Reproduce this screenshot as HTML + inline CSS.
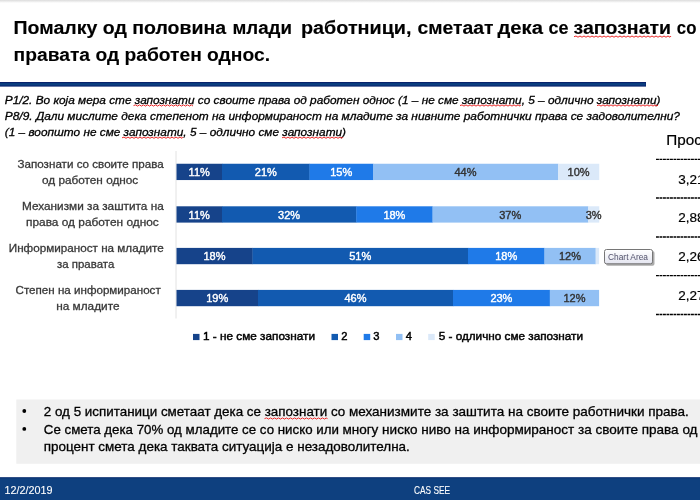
<!DOCTYPE html>
<html lang="en">
<head>
<meta charset="utf-8">
<title>Помалку од половина млади работници</title>
<style>
html,body{margin:0;padding:0;background:#fff;}
body{width:700px;height:500px;overflow:hidden;font-family:"Liberation Sans", sans-serif;}
svg{display:block;font-family:"Liberation Sans", sans-serif;}
</style>
</head>
<body>
<svg width="700" height="500" viewBox="0 0 700 500">
<defs><linearGradient id="topg" x1="0" y1="0" x2="0" y2="1"><stop offset="0" stop-color="#dcdcdc"/><stop offset="1" stop-color="#ffffff"/></linearGradient></defs>
<rect x="0" y="0" width="700" height="500" fill="#ffffff"/>
<rect x="0" y="0" width="700" height="3" fill="url(#topg)"/>
<g id="title" font-family='"Liberation Sans", sans-serif'>
<text y="34.2" font-size="18.7" font-weight="bold" font-style="normal" fill="#000" stroke="#000" stroke-width="0.15"><tspan x="13.6" textLength="212.5" lengthAdjust="spacingAndGlyphs">Помалку од половина</tspan> <tspan x="232.5" textLength="59.5" lengthAdjust="spacingAndGlyphs">млади</tspan> <tspan x="301" textLength="110.5" lengthAdjust="spacingAndGlyphs">работници,</tspan> <tspan x="417.5" textLength="76" lengthAdjust="spacingAndGlyphs">сметаат</tspan> <tspan x="497.5" textLength="45.5" lengthAdjust="spacingAndGlyphs">дека</tspan> <tspan x="548.5" textLength="20" lengthAdjust="spacingAndGlyphs">се</tspan> <tspan x="573.5" textLength="97.5" lengthAdjust="spacingAndGlyphs">запознати</tspan> <tspan x="676.8" textLength="19.6" lengthAdjust="spacingAndGlyphs">со</tspan></text>
<text x="13.6" y="61.4" font-size="18.7" font-weight="bold" font-style="normal" fill="#000" stroke="#000" stroke-width="0.1" text-anchor="start" textLength="256.4" lengthAdjust="spacingAndGlyphs">правата од работен однос.</text>
<path d="M574 36.7 L576 36 L578 37.2 L580 36 L582 37.2 L584 36 L586 37.2 L588 36 L590 37.2 L592 36 L594 37.2 L596 36 L598 37.2 L600 36 L602 37.2 L604 36 L606 37.2 L608 36 L610 37.2 L612 36 L614 37.2 L616 36 L618 37.2 L620 36 L622 37.2 L624 36 L626 37.2 L628 36 L630 37.2 L632 36 L634 37.2 L636 36 L638 37.2 L640 36 L642 37.2 L644 36 L646 37.2 L648 36 L650 37.2 L652 36 L654 37.2 L656 36 L658 37.2 L660 36 L662 37.2 L664 36 L666 37.2 L668 36 L670 37.2 L671 36" fill="none" stroke="#ee2a2a" stroke-width="1"/>
</g>
<rect id="rule" x="0" y="82" width="646" height="4.6" fill="#08226c"/>
<rect x="0" y="83.1" width="645.5" height="2.4" fill="#0b3f80"/>
<g id="question">
<text x="4.8" y="103.5" font-size="11.4" font-weight="normal" font-style="italic" fill="#000" stroke="#000" stroke-width="0.3" text-anchor="start" textLength="655.7" lengthAdjust="spacingAndGlyphs">P1/2. Во која мера сте запознати со своите права од работен однос (1 – не сме запознати, 5 – одлично запознати)</text>
<text x="4.8" y="119.8" font-size="11.4" font-weight="normal" font-style="italic" fill="#000" stroke="#000" stroke-width="0.3" text-anchor="start" textLength="675.2" lengthAdjust="spacingAndGlyphs">P8/9. Дали мислите дека степенот на информираност на младите за нивните работнички права се задоволителни?</text>
<text x="4.8" y="136.1" font-size="11.4" font-weight="normal" font-style="italic" fill="#000" stroke="#000" stroke-width="0.3" text-anchor="start" textLength="341.2" lengthAdjust="spacingAndGlyphs">(1 – воопшто не сме запознати, 5 – одлично сме запознати)</text>
<path d="M133.5 105.6 L135.5 104.9 L137.5 106.1 L139.5 104.9 L141.5 106.1 L143.5 104.9 L145.5 106.1 L147.5 104.9 L149.5 106.1 L151.5 104.9 L153.5 106.1 L155.5 104.9 L157.5 106.1 L159.5 104.9 L161.5 106.1 L163.5 104.9 L165.5 106.1 L167.5 104.9 L169.5 106.1 L171.5 104.9 L173.5 106.1 L175.5 104.9 L177.5 106.1 L179.5 104.9 L181.5 106.1 L183.5 104.9 L185.5 106.1 L187.5 104.9 L189.5 106.1 L191.5 104.9 L193 106.1" fill="none" stroke="#ee2a2a" stroke-width="1"/>
<path d="M460 105.6 L462 104.9 L464 106.1 L466 104.9 L468 106.1 L470 104.9 L472 106.1 L474 104.9 L476 106.1 L478 104.9 L480 106.1 L482 104.9 L484 106.1 L486 104.9 L488 106.1 L490 104.9 L492 106.1 L494 104.9 L496 106.1 L498 104.9 L500 106.1 L502 104.9 L504 106.1 L506 104.9 L508 106.1 L510 104.9 L512 106.1 L514 104.9 L516 106.1 L518 104.9 L520 106.1 L520.5 104.9" fill="none" stroke="#ee2a2a" stroke-width="1"/>
<path d="M597 105.6 L599 104.9 L601 106.1 L603 104.9 L605 106.1 L607 104.9 L609 106.1 L611 104.9 L613 106.1 L615 104.9 L617 106.1 L619 104.9 L621 106.1 L623 104.9 L625 106.1 L627 104.9 L629 106.1 L631 104.9 L633 106.1 L635 104.9 L637 106.1 L639 104.9 L641 106.1 L643 104.9 L645 106.1 L647 104.9 L649 106.1 L651 104.9 L653 106.1 L655 104.9 L657 106.1 L658 104.9" fill="none" stroke="#ee2a2a" stroke-width="1"/>
<path d="M122 137.8 L124 137.1 L126 138.3 L128 137.1 L130 138.3 L132 137.1 L134 138.3 L136 137.1 L138 138.3 L140 137.1 L142 138.3 L144 137.1 L146 138.3 L148 137.1 L150 138.3 L152 137.1 L154 138.3 L156 137.1 L158 138.3 L160 137.1 L162 138.3 L164 137.1 L166 138.3 L168 137.1 L170 138.3 L172 137.1 L174 138.3 L176 137.1 L178 138.3 L180 137.1 L182 138.3 L183 137.1" fill="none" stroke="#ee2a2a" stroke-width="1"/>
<path d="M282 137.8 L284 137.1 L286 138.3 L288 137.1 L290 138.3 L292 137.1 L294 138.3 L296 137.1 L298 138.3 L300 137.1 L302 138.3 L304 137.1 L306 138.3 L308 137.1 L310 138.3 L312 137.1 L314 138.3 L316 137.1 L318 138.3 L320 137.1 L322 138.3 L324 137.1 L326 138.3 L328 137.1 L330 138.3 L332 137.1 L334 138.3 L336 137.1 L338 138.3 L340 137.1 L342 138.3 L343 137.1" fill="none" stroke="#ee2a2a" stroke-width="1"/>
</g>
<g id="chart">
<line x1="176" y1="151" x2="176" y2="318.5" stroke="#e2e2e2" stroke-width="1"/>
<rect x="176.50" y="163.75" width="45.80" height="16.3" fill="#16438a"/>
<rect x="222.00" y="163.75" width="87.80" height="16.3" fill="#125ab0"/>
<rect x="309.50" y="163.75" width="63.80" height="16.3" fill="#1f7ae8"/>
<rect x="373.00" y="163.75" width="185.30" height="16.3" fill="#92c0f4"/>
<rect x="558.00" y="163.75" width="41.25" height="16.3" fill="#dbe9f9"/>
<text x="199.2" y="176.15" font-size="11" font-weight="normal" font-style="normal" fill="#fff" stroke="#fff" stroke-width="0.4" text-anchor="middle">11%</text>
<text x="265.8" y="176.15" font-size="11" font-weight="normal" font-style="normal" fill="#fff" stroke="#fff" stroke-width="0.4" text-anchor="middle">21%</text>
<text x="341.2" y="176.15" font-size="11" font-weight="normal" font-style="normal" fill="#fff" stroke="#fff" stroke-width="0.4" text-anchor="middle">15%</text>
<text x="465.5" y="176.15" font-size="11" font-weight="normal" font-style="normal" fill="#333" stroke="#333" stroke-width="0.4" text-anchor="middle">44%</text>
<text x="578.6" y="176.15" font-size="11" font-weight="normal" font-style="normal" fill="#333" stroke="#333" stroke-width="0.4" text-anchor="middle">10%</text>
<rect x="176.50" y="206.3" width="45.80" height="16.3" fill="#16438a"/>
<rect x="222.00" y="206.3" width="134.55" height="16.3" fill="#125ab0"/>
<rect x="356.25" y="206.3" width="76.55" height="16.3" fill="#1f7ae8"/>
<rect x="432.50" y="206.3" width="155.80" height="16.3" fill="#92c0f4"/>
<rect x="588.00" y="206.3" width="11.25" height="16.3" fill="#dbe9f9"/>
<text x="199.2" y="218.70000000000002" font-size="11" font-weight="normal" font-style="normal" fill="#fff" stroke="#fff" stroke-width="0.4" text-anchor="middle">11%</text>
<text x="289.1" y="218.70000000000002" font-size="11" font-weight="normal" font-style="normal" fill="#fff" stroke="#fff" stroke-width="0.4" text-anchor="middle">32%</text>
<text x="394.4" y="218.70000000000002" font-size="11" font-weight="normal" font-style="normal" fill="#fff" stroke="#fff" stroke-width="0.4" text-anchor="middle">18%</text>
<text x="510.2" y="218.70000000000002" font-size="11" font-weight="normal" font-style="normal" fill="#333" stroke="#333" stroke-width="0.4" text-anchor="middle">37%</text>
<text x="593.6" y="218.70000000000002" font-size="11" font-weight="normal" font-style="normal" fill="#333" stroke="#333" stroke-width="0.4" text-anchor="middle">3%</text>
<rect x="176.50" y="247.9" width="76.30" height="16.3" fill="#16438a"/>
<rect x="252.50" y="247.9" width="215.80" height="16.3" fill="#125ab0"/>
<rect x="468.00" y="247.9" width="76.70" height="16.3" fill="#1f7ae8"/>
<rect x="544.40" y="247.9" width="51.50" height="16.3" fill="#92c0f4"/>
<rect x="595.60" y="247.9" width="3.50" height="16.3" fill="#dbe9f9"/>
<text x="214.5" y="260.3" font-size="11" font-weight="normal" font-style="normal" fill="#fff" stroke="#fff" stroke-width="0.4" text-anchor="middle">18%</text>
<text x="360.2" y="260.3" font-size="11" font-weight="normal" font-style="normal" fill="#fff" stroke="#fff" stroke-width="0.4" text-anchor="middle">51%</text>
<text x="506.2" y="260.3" font-size="11" font-weight="normal" font-style="normal" fill="#fff" stroke="#fff" stroke-width="0.4" text-anchor="middle">18%</text>
<text x="570.0" y="260.3" font-size="11" font-weight="normal" font-style="normal" fill="#333" stroke="#333" stroke-width="0.4" text-anchor="middle">12%</text>
<rect x="176.50" y="289.9" width="81.80" height="16.3" fill="#16438a"/>
<rect x="258.00" y="289.9" width="195.30" height="16.3" fill="#125ab0"/>
<rect x="453.00" y="289.9" width="97.10" height="16.3" fill="#1f7ae8"/>
<rect x="549.80" y="289.9" width="49.30" height="16.3" fill="#92c0f4"/>
<text x="217.2" y="302.29999999999995" font-size="11" font-weight="normal" font-style="normal" fill="#fff" stroke="#fff" stroke-width="0.4" text-anchor="middle">19%</text>
<text x="355.5" y="302.29999999999995" font-size="11" font-weight="normal" font-style="normal" fill="#fff" stroke="#fff" stroke-width="0.4" text-anchor="middle">46%</text>
<text x="501.4" y="302.29999999999995" font-size="11" font-weight="normal" font-style="normal" fill="#fff" stroke="#fff" stroke-width="0.4" text-anchor="middle">23%</text>
<text x="574.5" y="302.29999999999995" font-size="11" font-weight="normal" font-style="normal" fill="#333" stroke="#333" stroke-width="0.4" text-anchor="middle">12%</text>
<text x="17.5" y="167.5" font-size="11.5" font-weight="normal" font-style="normal" fill="#383838" stroke="#383838" stroke-width="0.3" text-anchor="start" textLength="146.25" lengthAdjust="spacingAndGlyphs">Запознати со своите права</text>
<text x="42" y="183.8" font-size="11.5" font-weight="normal" font-style="normal" fill="#383838" stroke="#383838" stroke-width="0.3" text-anchor="start" textLength="96.25" lengthAdjust="spacingAndGlyphs">од работен однос</text>
<text x="22" y="210" font-size="11.5" font-weight="normal" font-style="normal" fill="#383838" stroke="#383838" stroke-width="0.3" text-anchor="start" textLength="141.75" lengthAdjust="spacingAndGlyphs">Механизми за заштита на</text>
<text x="26" y="225.8" font-size="11.5" font-weight="normal" font-style="normal" fill="#383838" stroke="#383838" stroke-width="0.3" text-anchor="start" textLength="132.75" lengthAdjust="spacingAndGlyphs">права од работен однос</text>
<text x="8.75" y="252" font-size="11.5" font-weight="normal" font-style="normal" fill="#383838" stroke="#383838" stroke-width="0.3" text-anchor="start" textLength="155" lengthAdjust="spacingAndGlyphs">Информираност на младите</text>
<text x="57" y="267.6" font-size="11.5" font-weight="normal" font-style="normal" fill="#383838" stroke="#383838" stroke-width="0.3" text-anchor="start" textLength="57.25" lengthAdjust="spacingAndGlyphs">за правата</text>
<text x="15.5" y="294.2" font-size="11.5" font-weight="normal" font-style="normal" fill="#383838" stroke="#383838" stroke-width="0.3" text-anchor="start" textLength="145.25" lengthAdjust="spacingAndGlyphs">Степен на информираност</text>
<text x="56.25" y="310" font-size="11.5" font-weight="normal" font-style="normal" fill="#383838" stroke="#383838" stroke-width="0.3" text-anchor="start" textLength="63.25" lengthAdjust="spacingAndGlyphs">на младите</text>
<rect x="193" y="333.9" width="6.5" height="6.2" fill="#16438a"/>
<text x="203" y="340.2" font-size="11.2" font-weight="normal" font-style="normal" fill="#000" stroke="#000" stroke-width="0.45" text-anchor="start" textLength="112" lengthAdjust="spacingAndGlyphs">1 - не сме запознати</text>
<rect x="331.5" y="333.9" width="6.5" height="6.2" fill="#125ab0"/>
<text x="341.3" y="340.2" font-size="11.2" font-weight="normal" font-style="normal" fill="#000" stroke="#000" stroke-width="0.45" text-anchor="start">2</text>
<rect x="363.7" y="333.9" width="6.5" height="6.2" fill="#1f7ae8"/>
<text x="373.2" y="340.2" font-size="11.2" font-weight="normal" font-style="normal" fill="#000" stroke="#000" stroke-width="0.45" text-anchor="start">3</text>
<rect x="396" y="333.9" width="6.5" height="6.2" fill="#92c0f4"/>
<text x="405.7" y="340.2" font-size="11.2" font-weight="normal" font-style="normal" fill="#000" stroke="#000" stroke-width="0.45" text-anchor="start">4</text>
<rect x="428.2" y="333.9" width="6.5" height="6.2" fill="#dbe9f9"/>
<text x="438.7" y="340.2" font-size="11.2" font-weight="normal" font-style="normal" fill="#000" stroke="#000" stroke-width="0.45" text-anchor="start" textLength="144.3" lengthAdjust="spacingAndGlyphs">5 - одлично сме запознати</text>
</g>
<g id="avg">
<text x="666.3" y="145.3" font-size="14.7" font-weight="normal" font-style="normal" fill="#000" stroke="#000" stroke-width="0.2" text-anchor="start" textLength="50.8" lengthAdjust="spacingAndGlyphs">Просек</text>
<line x1="656" y1="159.3" x2="700" y2="159.3" stroke="#000" stroke-width="1.3" stroke-dasharray="2.9 0.6"/>
<line x1="656" y1="198" x2="700" y2="198" stroke="#000" stroke-width="1.3" stroke-dasharray="2.9 0.6"/>
<line x1="656" y1="237" x2="700" y2="237" stroke="#000" stroke-width="1.3" stroke-dasharray="2.9 0.6"/>
<line x1="656" y1="275.6" x2="700" y2="275.6" stroke="#000" stroke-width="1.3" stroke-dasharray="2.9 0.6"/>
<line x1="656" y1="314.5" x2="700" y2="314.5" stroke="#000" stroke-width="1.3" stroke-dasharray="2.9 0.6"/>
<text x="678.3" y="183.5" font-size="13.5" font-weight="normal" font-style="normal" fill="#000" stroke="#000" stroke-width="0.2" text-anchor="start">3,21</text>
<text x="678.3" y="222" font-size="13.5" font-weight="normal" font-style="normal" fill="#000" stroke="#000" stroke-width="0.2" text-anchor="start">2,88</text>
<text x="678.3" y="261.2" font-size="13.5" font-weight="normal" font-style="normal" fill="#000" stroke="#000" stroke-width="0.2" text-anchor="start">2,26</text>
<text x="678.3" y="300" font-size="13.5" font-weight="normal" font-style="normal" fill="#000" stroke="#000" stroke-width="0.2" text-anchor="start">2,27</text>
</g>
<g id="tooltip">
<defs><linearGradient id="tg" x1="0" y1="0" x2="0" y2="1"><stop offset="0" stop-color="#ffffff"/><stop offset="1" stop-color="#e4e5f0"/></linearGradient></defs>
<rect x="606" y="251" width="48.5" height="14.8" rx="2" fill="#000" opacity="0.33"/>
<rect x="604.5" y="249.5" width="48" height="14.3" rx="2" fill="url(#tg)" stroke="#767676" stroke-width="1"/>
<text x="608" y="259.8" font-size="8.6" font-weight="normal" font-style="normal" fill="#50506a" stroke="#50506a" stroke-width="0" text-anchor="start" textLength="40" lengthAdjust="spacingAndGlyphs">Chart Area</text>
</g>
<g id="notes">
<rect x="16.3" y="399.5" width="684" height="64.3" fill="#f0f0f0"/>
<circle cx="24.3" cy="411.0" r="1.9" fill="#000"/>
<circle cx="24.3" cy="428.9" r="1.9" fill="#000"/>
<text y="416.3" font-size="13.2" font-weight="normal" font-style="normal" fill="#000" stroke="#000" stroke-width="0.3"><tspan x="43.8" textLength="301.4" lengthAdjust="spacingAndGlyphs">2 од 5 испитаници сметаат дека се запознати со</tspan> <tspan x="349" textLength="339.8" lengthAdjust="spacingAndGlyphs">механизмите за заштита на своите работнички права.</tspan></text>
<text y="434.3" font-size="13.2" font-weight="normal" font-style="normal" fill="#000" stroke="#000" stroke-width="0.3"><tspan x="43.8" textLength="295.1" lengthAdjust="spacingAndGlyphs">Се смета дека 70% од младите се со ниско или</tspan> <tspan x="342.4" textLength="355.1" lengthAdjust="spacingAndGlyphs">многу ниско ниво на информираност за своите права од</tspan></text>
<text x="43.8" y="451.3" font-size="13.2" font-weight="normal" font-style="normal" fill="#000" stroke="#000" stroke-width="0.3" text-anchor="start" textLength="366" lengthAdjust="spacingAndGlyphs">процент смета дека таквата ситуација е незадоволителна.</text>
<path d="M264.5 418.6 L266.5 417.9 L268.5 419.1 L270.5 417.9 L272.5 419.1 L274.5 417.9 L276.5 419.1 L278.5 417.9 L280.5 419.1 L282.5 417.9 L284.5 419.1 L286.5 417.9 L288.5 419.1 L290.5 417.9 L292.5 419.1 L294.5 417.9 L296.5 419.1 L298.5 417.9 L300.5 419.1 L302.5 417.9 L304.5 419.1 L306.5 417.9 L308.5 419.1 L310.5 417.9 L312.5 419.1 L314.5 417.9 L316.5 419.1 L318.5 417.9 L320.5 419.1 L322.5 417.9 L324.5 419.1 L326.5 417.9 L327.5 419.1" fill="none" stroke="#ee2a2a" stroke-width="1"/>
</g>
<g id="footer">
<rect x="0" y="477.5" width="700" height="22.5" fill="#0e407f"/>
<rect x="0" y="477.3" width="700" height="1" fill="#0b2e6e"/>
<text x="4.5" y="493.8" font-size="11" font-weight="normal" font-style="normal" fill="#fff" stroke="#fff" stroke-width="0.1" text-anchor="start" textLength="48" lengthAdjust="spacingAndGlyphs">12/2/2019</text>
<text x="414" y="493.7" font-size="10.5" font-weight="normal" font-style="normal" fill="#fff" stroke="#fff" stroke-width="0.1" text-anchor="start" textLength="36" lengthAdjust="spacingAndGlyphs">CAS SEE</text>
</g>
</svg>
</body>
</html>
